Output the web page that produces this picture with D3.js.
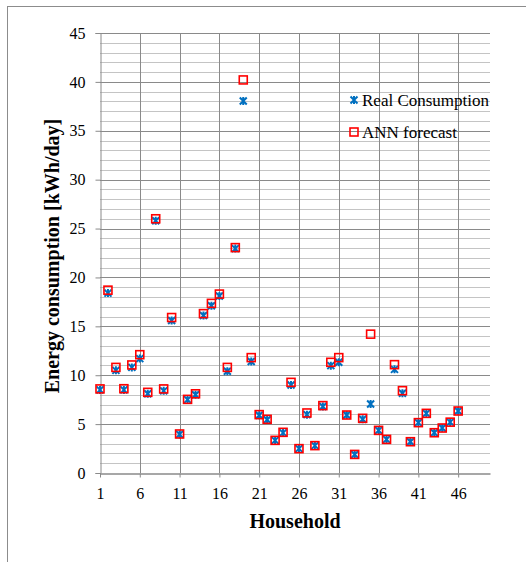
<!DOCTYPE html>
<html>
<head>
<meta charset="utf-8">
<script src="https://cdn.jsdelivr.net/npm/d3@7"></script>
<style>
  body { margin: 0; background: #fff; }
  text { font-family: "Liberation Serif", "Times New Roman", serif; fill: #000; }
</style>
</head>
<body>
<div id="vis"></div>
<script>
var households = d3.range(1, 47);
var realConsumption = [8.5, 18.4, 10.5, 8.5, 10.8, 11.7, 8.1, 25.8, 8.4, 15.6,
  3.95, 7.5, 8.0, 16.1, 17.1, 18.1, 10.4, 22.95, 38.05, 11.4,
  5.9, 5.45, 3.34, 4.1, 9.0, 2.49, 5.97, 2.8, 6.8, 10.98,
  11.32, 5.93, 1.9, 5.5, 7.06, 4.36, 3.44, 10.6, 8.15, 3.2,
  5.15, 6.1, 4.12, 4.6, 5.2, 6.34];
var annForecast = [8.6, 18.7, 10.8, 8.62, 11.05, 12.1, 8.25, 26.0, 8.6, 15.9,
  3.99, 7.53, 8.1, 16.3, 17.35, 18.3, 10.8, 23.05, 40.2, 11.8,
  5.97, 5.49, 3.34, 4.16, 9.27, 2.49, 6.14, 2.8, 6.89, 11.32,
  11.8, 5.93, 1.9, 5.59, 14.2, 4.36, 3.44, 11.08, 8.42, 3.2,
  5.15, 6.1, 4.12, 4.6, 5.2, 6.34];
var xTicks = [1, 6, 11, 16, 21, 26, 31, 36, 41, 46];
var yTicks = [0, 5, 10, 15, 20, 25, 30, 35, 40, 45];
var seriesNames = ["Real Consumption", "ANN forecast"];

var w = 526, h = 562;
var margin = {top: 33, right: 36, bottom: 89, left: 100};

var svg = d3.select("#vis").append("svg")
    .attr("width", w)
    .attr("height", h);

// chart area border (cut off at right/bottom like the reference)
svg.append("rect")
    .attr("x", 7.5).attr("y", 6.5)
    .attr("width", w + 10).attr("height", h + 10)
    .attr("fill", "none")
    .attr("stroke", "#8c8c8c");

var x = d3.scaleLinear().domain([1, 50]).range([margin.left, w - margin.right]);
var y = d3.scaleLinear().domain([0, 45]).range([h - margin.bottom - 0.5 + 0.5, margin.top]);

// minor horizontal gridlines
svg.append("g").selectAll("line")
    .data(d3.range(0, 46).filter(function(d) { return d % 5 != 0; }))
    .enter().append("line")
    .attr("x1", x(1)).attr("x2", x(50))
    .attr("y1", function(d) { return Math.round(y(d)) + 0.5; })
    .attr("y2", function(d) { return Math.round(y(d)) + 0.5; })
    .attr("stroke", "#c4c4c4");

// major horizontal gridlines
svg.append("g").selectAll("line")
    .data(yTicks.slice(1))
    .enter().append("line")
    .attr("x1", x(1)).attr("x2", x(50))
    .attr("y1", function(d) { return Math.round(y(d)) + 0.5; })
    .attr("y2", function(d) { return Math.round(y(d)) + 0.5; })
    .attr("stroke", "#8a8a8a");

// vertical gridlines
svg.append("g").selectAll("line")
    .data(xTicks.slice(1))
    .enter().append("line")
    .attr("x1", function(d) { return Math.round(x(d)) + 0.5; })
    .attr("x2", function(d) { return Math.round(x(d)) + 0.5; })
    .attr("y1", y(0)).attr("y2", y(45))
    .attr("stroke", "#8a8a8a");

// axes
var yAxis = d3.axisLeft(y).tickValues(yTicks).tickSize(5).tickPadding(10)
    .tickFormat(d3.format("d"));
var gy = svg.append("g")
    .attr("transform", "translate(" + (Math.round(x(1)) + 0.5) + ",0)")
    .call(yAxis);
gy.select(".domain").attr("stroke", "#8a8a8a");
gy.selectAll(".tick line").attr("stroke", "#8a8a8a");
gy.selectAll("text").attr("font-size", "16px")
    .attr("font-family", "Liberation Serif");

var xAxis = d3.axisBottom(x).tickValues(xTicks).tickSize(4).tickPadding(10)
    .tickSizeOuter(0)
    .tickFormat(d3.format("d"));
var gx = svg.append("g")
    .attr("transform", "translate(0," + (Math.round(y(0)) + 0.5) + ")")
    .call(xAxis);
gx.select(".domain").attr("stroke", "#8a8a8a").attr("stroke-width", 1.5);
gx.selectAll(".tick line").attr("stroke", "#8a8a8a");
gx.selectAll("text").attr("font-size", "16px")
    .attr("font-family", "Liberation Serif");

// axis titles
svg.append("text")
    .attr("x", (x(1) + x(50)) / 2)
    .attr("y", 528)
    .attr("text-anchor", "middle")
    .attr("font-weight", "bold")
    .attr("font-size", "20px")
    .text("Household");

svg.append("text")
    .attr("transform", "translate(59," + ((y(0) + y(45)) / 2 + 3) + ") rotate(-90)")
    .attr("text-anchor", "middle")
    .attr("font-weight", "bold")
    .attr("font-size", "20px")
    .text("Energy consumption [kWh/day]");

var starPath = "M-3.5,-3.5L3.5,3.5M-3.5,3.5L3.5,-3.5M0,-4L0,4";

// Real consumption (blue stars)
svg.append("g").selectAll("path")
    .data(households)
    .enter().append("path")
    .attr("d", starPath)
    .attr("transform", function(d, i) { return "translate(" + x(d) + "," + y(realConsumption[i]) + ")"; })
    .attr("stroke", "#0070c0")
    .attr("stroke-width", 2)
    .attr("fill", "none");

// ANN forecast (red hollow squares)
svg.append("g").selectAll("rect")
    .data(households)
    .enter().append("rect")
    .attr("x", function(d) { return x(d) - 4; })
    .attr("y", function(d, i) { return y(annForecast[i]) - 4; })
    .attr("width", 8)
    .attr("height", 8)
    .attr("fill", "none")
    .attr("stroke", "#ff0000")
    .attr("stroke-width", 1.6);

// legend
var legend = svg.append("g");
legend.append("path")
    .attr("d", starPath)
    .attr("transform", "translate(354,100)")
    .attr("stroke", "#0070c0")
    .attr("stroke-width", 2)
    .attr("fill", "none");
legend.append("rect")
    .attr("x", 350).attr("y", 128)
    .attr("width", 8).attr("height", 8)
    .attr("fill", "none")
    .attr("stroke", "#ff0000")
    .attr("stroke-width", 1.6);
legend.selectAll("text")
    .data(seriesNames)
    .enter().append("text")
    .attr("x", 362)
    .attr("y", function(d, i) { return 105.5 + i * 32; })
    .attr("font-size", "17px")
    .text(function(d) { return d; });
</script>
</body>
</html>
